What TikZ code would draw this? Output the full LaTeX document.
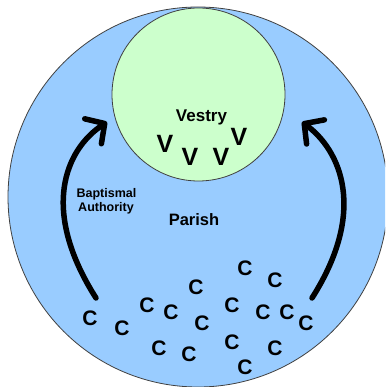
\documentclass[tikz,border=0pt]{standalone}
\usepackage{fontspec}
\setmainfont{Liberation Sans}
\usetikzlibrary{arrows.meta}
\definecolor{parishblue}{HTML}{99CCFF}
\definecolor{vestrygreen}{HTML}{CCFFCC}
\definecolor{edgegray}{HTML}{404040}
\tikzset{
  lbl/.style={inner sep=0pt, anchor=base, font=\bfseries},
  cc/.style={lbl, font=\fontsize{21}{21}\selectfont\bfseries},
  vv/.style={lbl, font=\fontsize{25}{25}\selectfont\bfseries},
  bigarrow/.style={line width=5.5pt, line cap=round,
    -{Straight Barb[length=14pt,width=30pt,round]}}
}
\begin{document}
\begin{tikzpicture}[x=1pt,y=-1pt]
\useasboundingbox (0,0) rectangle (385,387);
\clip (0,0) rectangle (385,387);
\fill[white] (0,0) rectangle (385,387);
\draw[edgegray, line width=0.8pt, fill=parishblue] (198,197) circle (190);
\node[circle, draw=edgegray, line width=0.8pt, fill=vestrygreen, minimum size=173pt, inner sep=0pt] (vestry) at (198.5,94.5) {};
\node[lbl, font=\fontsize{17}{17}\selectfont\bfseries] (vt) at (201.5,121.5) {Vestry};
\node[lbl, font=\fontsize{16.5}{16.5}\selectfont\bfseries] (pt) at (194,225) {Parish};
\node[lbl, font=\fontsize{12.5}{12.5}\selectfont\bfseries] (b1) at (106.5,197) {Baptismal};
\node[lbl, font=\fontsize{12.5}{12.5}\selectfont\bfseries] (b2) at (106,211) {Authority};
% V's
\node[vv] (v1) at (165,153) {V};
\node[vv] (v2) at (190,165) {V};
\node[vv] (v3) at (221,165) {V};
\node[vv] (v4) at (239,146) {V};
% C's
\node[cc] (c1) at (90,325.5) {C};
\node[cc] (c2) at (122,335.5) {C};
\node[cc] (c3) at (147,312.5) {C};
\node[cc] (c4) at (171,319.5) {C};
\node[cc] (c5) at (196,294.5) {C};
\node[cc] (c6) at (202,330.5) {C};
\node[cc] (c7) at (159,355.5) {C};
\node[cc] (c8) at (189,361.5) {C};
\node[cc] (c9) at (245,275.5) {C};
\node[cc] (c10) at (275,287.5) {C};
\node[cc] (c11) at (232,312.5) {C};
\node[cc] (c12) at (263,319.5) {C};
\node[cc] (c13) at (287,319.5) {C};
\node[cc] (c14) at (306,330.5) {C};
\node[cc] (c15) at (232,349.5) {C};
\node[cc] (c16) at (245,374.5) {C};
\node[cc] (c17) at (275,355.5) {C};
% arrows
\coordinate (ls) at (96,298);
\coordinate (le) at (107,122);
\coordinate (rs) at (312,298);
\coordinate (re) at (302,122);
\draw[bigarrow] (ls) .. controls (40,210) and (65,150) .. (le);
\draw[bigarrow] (rs) .. controls (368,210) and (340,150) .. (re);
\end{tikzpicture}
\end{document}
